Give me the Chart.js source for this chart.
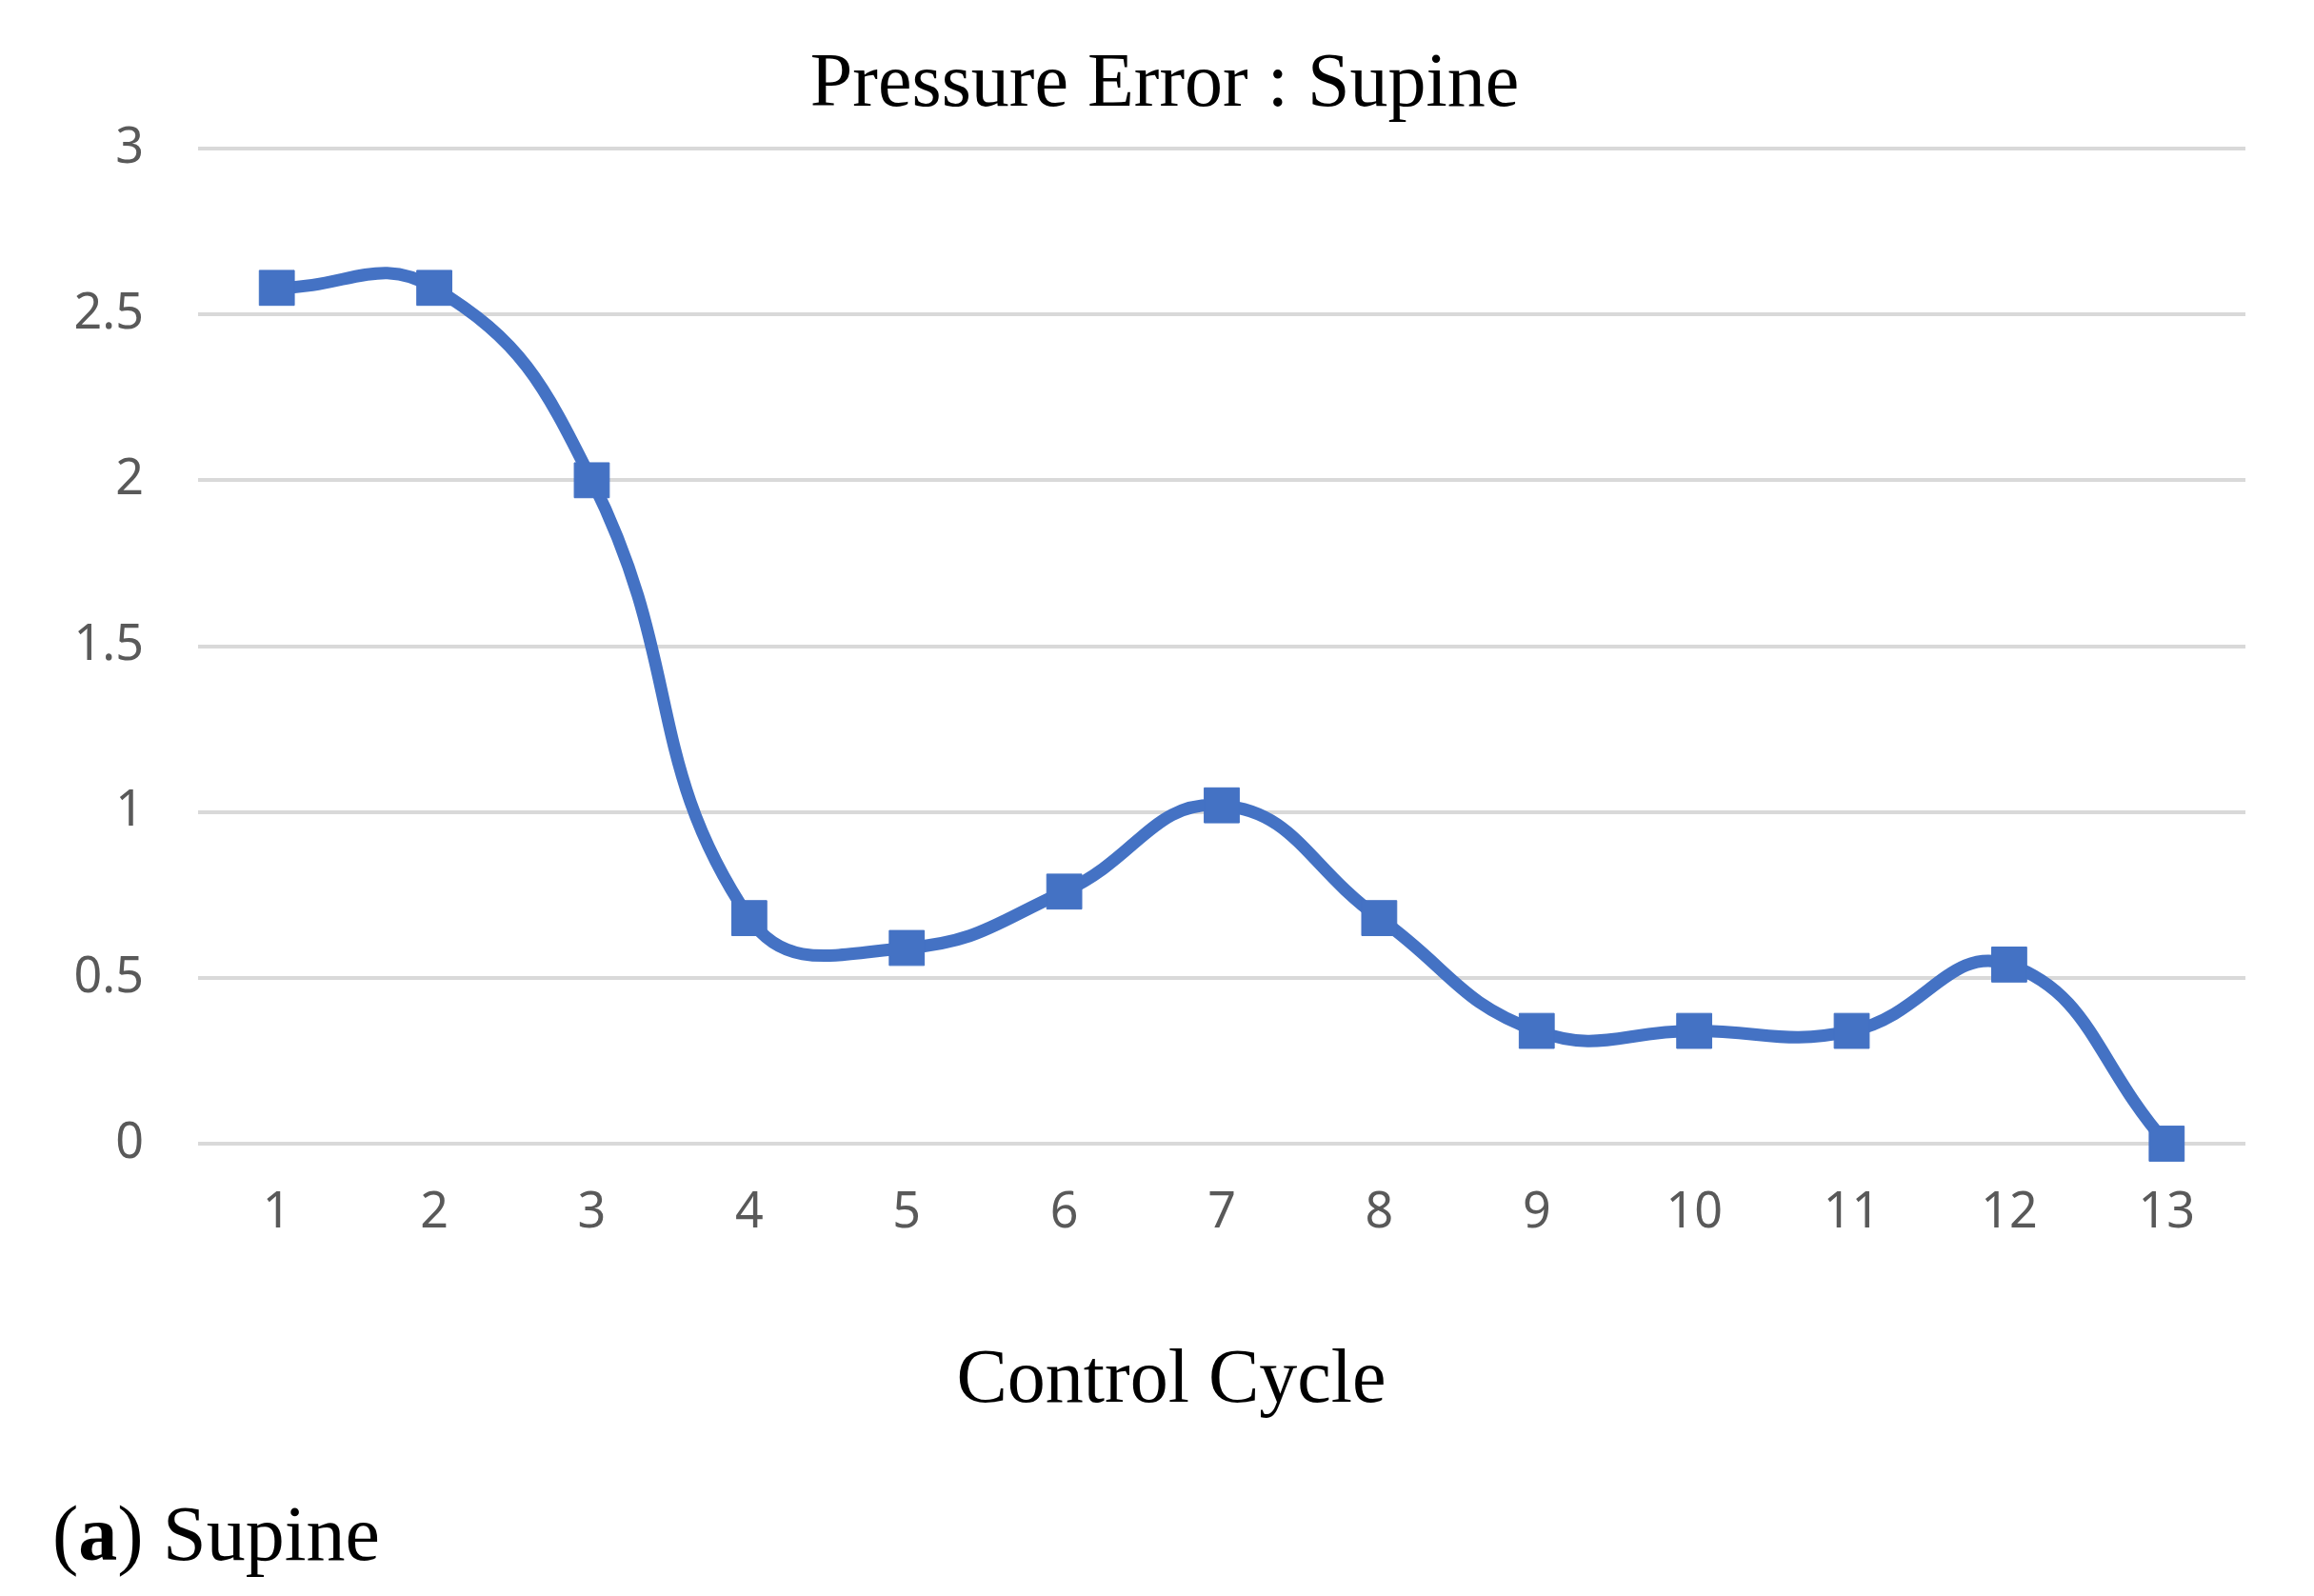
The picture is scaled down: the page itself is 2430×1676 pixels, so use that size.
<!DOCTYPE html>
<html>
<head>
<meta charset="utf-8">
<script src="https://cdn.jsdelivr.net/npm/chart.js@4/dist/chart.umd.min.js"></script>
<style>
  html, body { margin: 0; padding: 0; background: #fff; }
  #wrap { position: relative; width: 2430px; height: 1676px; }
  #caption {
    position: absolute; left: 55px; top: 1570px;
    font-family: "Liberation Serif", serif; font-size: 82px; color: #000;
    line-height: 1;
  }
</style>
</head>
<body>
<div id="wrap">
  <canvas id="pressureChart" width="2430" height="1676"></canvas>
  <div id="caption">(<b>a</b>) Supine</div>
</div>
<script>
// control cycles and pressure error
const cycles = ['1', '2', '3', '4', '5', '6', '7', '8', '9', '10', '11', '12', '13'];
const pressureError = [2.58, 2.58, 2.0, 0.68, 0.59, 0.76, 1.02, 0.68, 0.34, 0.34, 0.34, 0.54, 0.0];
const yTicks = [0, 0.5, 1, 1.5, 2, 2.5, 3];
const chartTitle = 'Pressure Error : Supine';
const xTitle = 'Control Cycle';

const blue = '#4472C4';
const tickFont = { family: '"Noto Sans", sans-serif', size: 52 };
const serif = '"Liberation Serif", serif';

// both titles sit left of the plot centre in the original, so draw them by hand
const titles = {
  id: 'titles',
  afterDraw(chart) {
    const { ctx, chartArea } = chart;
    const cx = (chartArea.left + chartArea.right) / 2 - 60;
    ctx.save();
    ctx.font = '80px ' + serif;
    ctx.fillStyle = '#000';
    ctx.textAlign = 'center';
    ctx.textBaseline = 'middle';
    ctx.fillText(chartTitle, cx, chartArea.top - 66);
    ctx.fillText(xTitle, cx + 7, chartArea.bottom + 250);
    ctx.restore();
  }
};

const ctx = document.getElementById('pressureChart').getContext('2d');
new Chart(ctx, {
  type: 'line',
  data: {
    labels: cycles,
    datasets: [
      {
        label: 'Pressure Error',
        data: pressureError,
        borderColor: blue,
        backgroundColor: blue,
        borderWidth: 13,
        tension: 0.45,
        clip: false,
        pointStyle: 'rect',
        pointRadius: 26,
        pointBorderWidth: 1,
        pointBackgroundColor: blue,
        pointBorderColor: blue
      }
    ]
  },
  options: {
    responsive: false,
    animation: false,
    devicePixelRatio: 1,
    layout: { padding: { left: 0, right: 72, top: 156, bottom: 150 } },
    plugins: {
      legend: { display: false },
      tooltip: { enabled: false },
      title: { display: false }
    },
    scales: {
      x: {
        offset: true,
        grid: { display: false },
        border: { display: false },
        ticks: { color: '#595959', font: tickFont, padding: 34 },
        afterFit: (scale) => { scale.height = 325; }
      },
      y: {
        min: 0,
        max: 3,
        afterBuildTicks: (scale) => { scale.ticks = yTicks.map(v => ({ value: v })); },
        grid: { color: '#d9d9d9', lineWidth: 4, drawTicks: false },
        border: { display: false },
        ticks: { color: '#595959', font: tickFont, padding: 57, callback: (v) => String(v) },
        afterFit: (scale) => { scale.width = 208; }
      }
    }
  },
  plugins: [titles]
});
</script>
</body>
</html>
